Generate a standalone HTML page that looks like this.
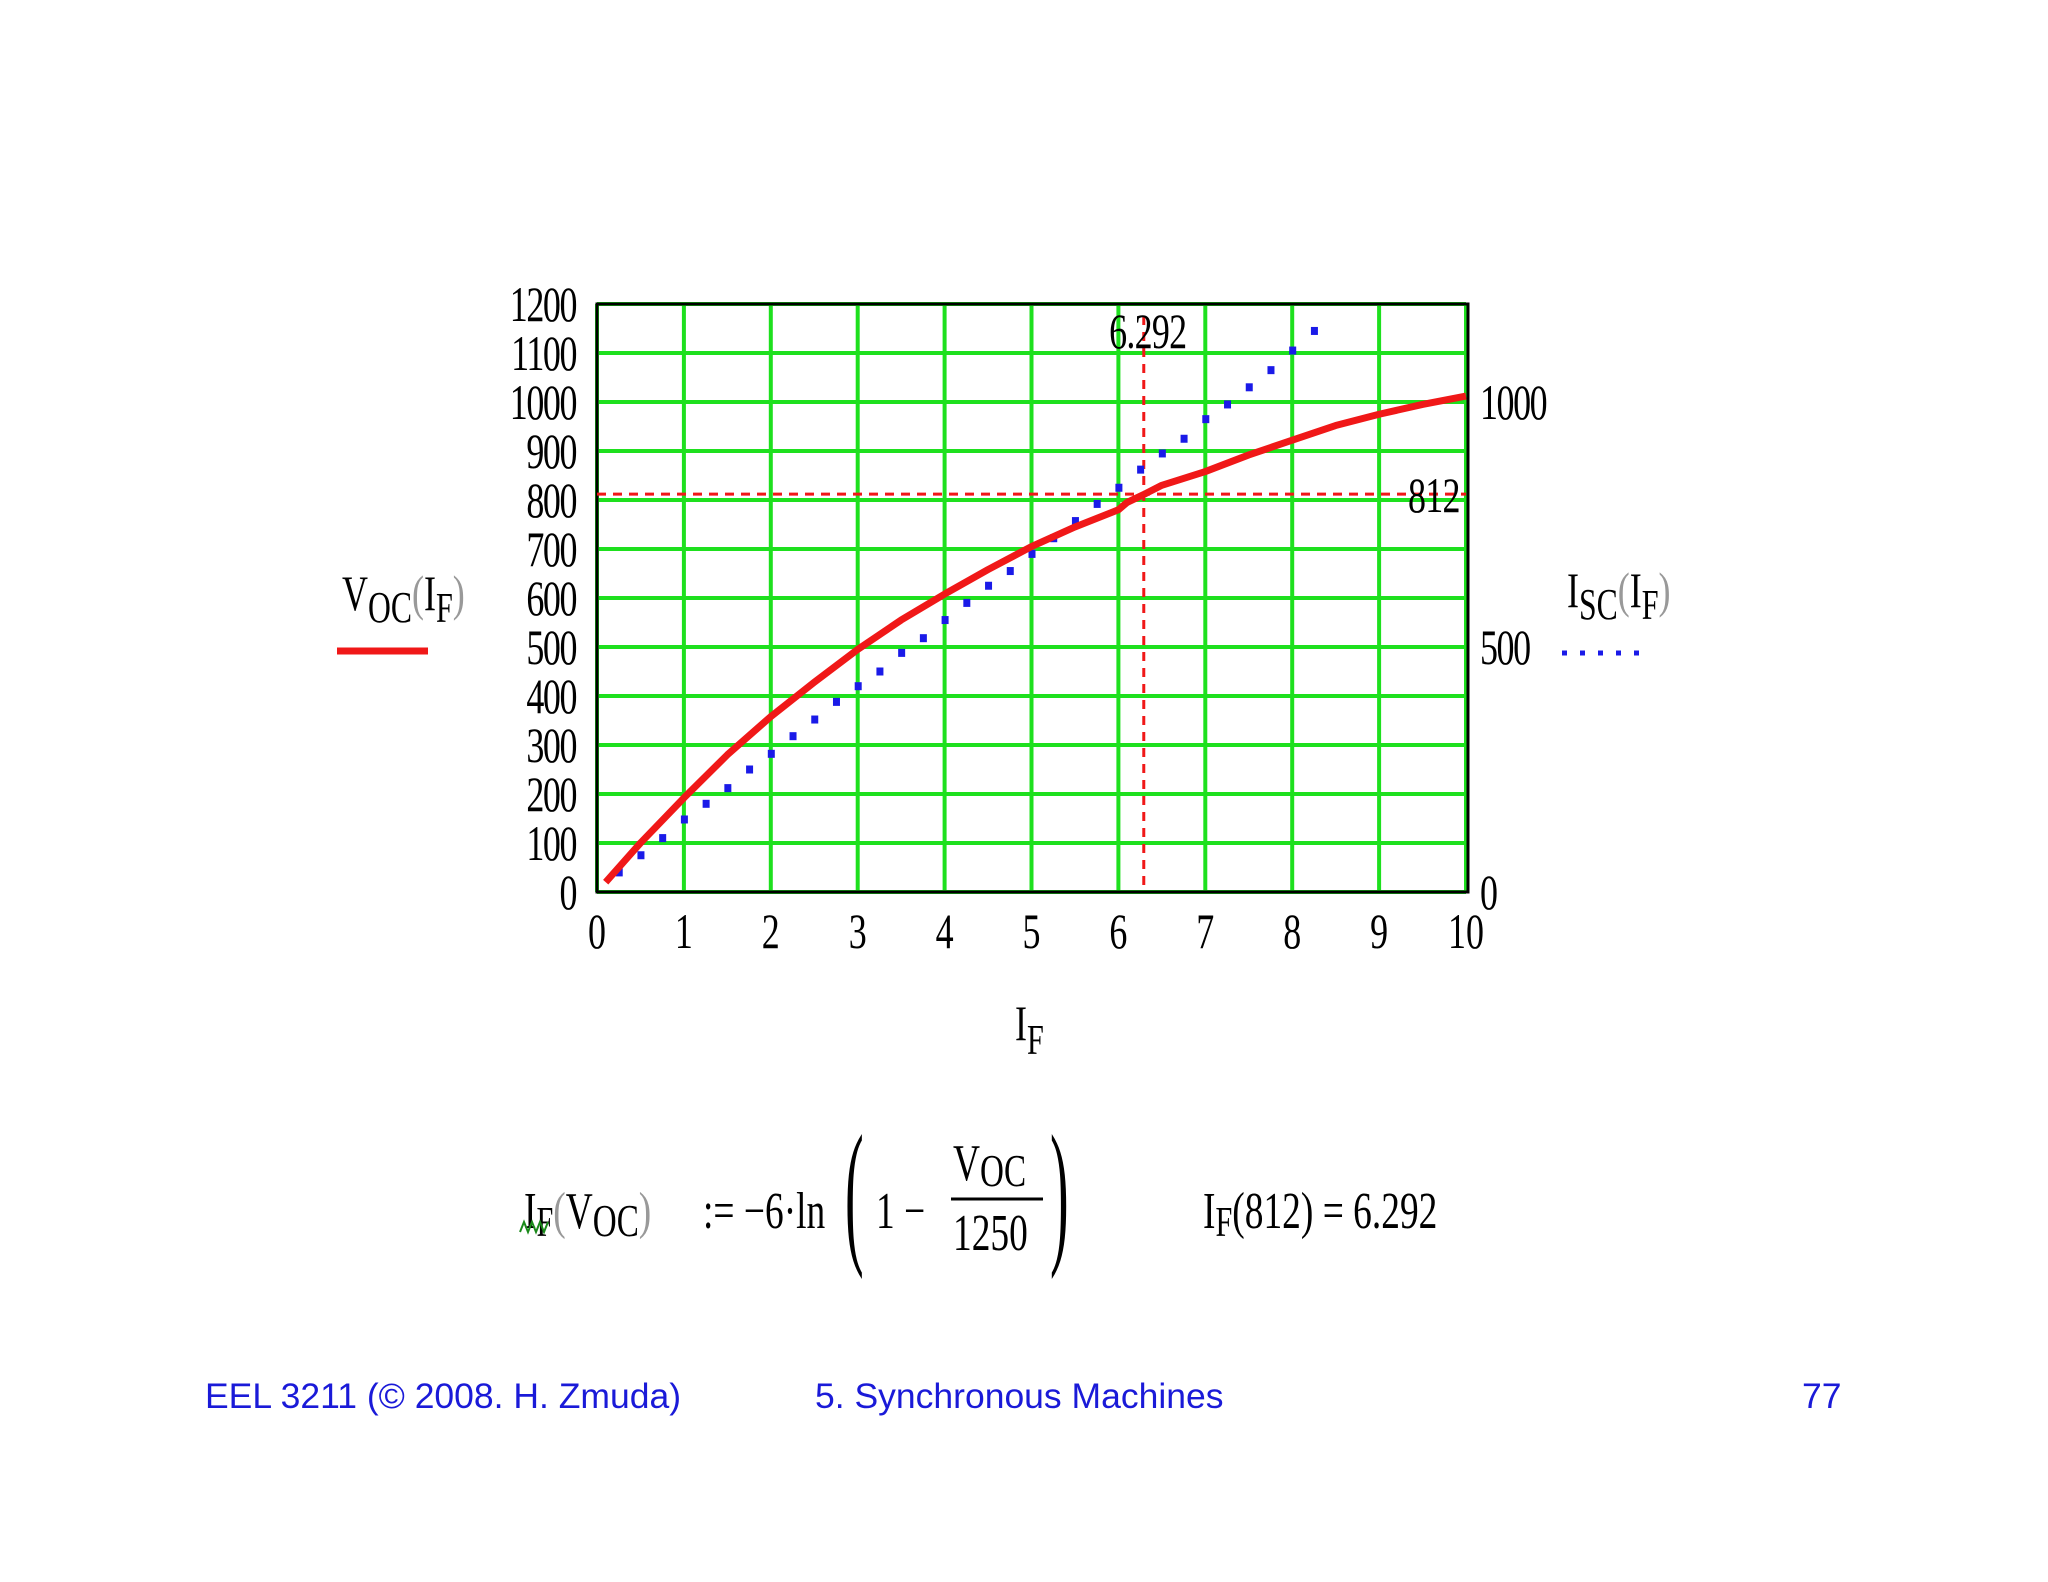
<!DOCTYPE html>
<html><head><meta charset="utf-8"><style>
html,body{margin:0;padding:0;background:#fff;}
svg{display:block;}
.t{font-family:"Liberation Serif",serif;fill:#000;}
.f{font-family:"Liberation Sans",sans-serif;fill:#1a1ad8;font-size:35.5px;}
</style></head><body>
<svg id="chart" width="2048" height="1582" viewBox="0 0 2048 1582" xmlns="http://www.w3.org/2000/svg">
<g id="grid"></g>
<g id="marks"></g>
<g id="labels"></g>

<text class="t" font-size="50" transform="translate(342 610) scale(0.72 1)">V<tspan font-size="44" dy="12">OC</tspan><tspan dy="-12" fill="#999">(</tspan>I<tspan font-size="42" dy="12">F</tspan><tspan dy="-12" fill="#999">)</tspan></text>
<line x1="337" y1="651" x2="428" y2="651" stroke="#f01818" stroke-width="7"/>
<text class="t" font-size="50" transform="translate(1567 607) scale(0.72 1)">I<tspan font-size="44" dy="12">SC</tspan><tspan dy="-12" fill="#999">(</tspan>I<tspan font-size="42" dy="12">F</tspan><tspan dy="-12" fill="#999">)</tspan></text>
<line x1="1562" y1="653" x2="1652" y2="653" stroke="#1a1ae8" stroke-width="5" stroke-dasharray="5 13"/>
<text class="t" font-size="50" transform="translate(1015 1040) scale(0.72 1)">I<tspan font-size="42" dy="14">F</tspan></text>

<g class="t" font-size="52">
<text transform="translate(524 1228) scale(0.72 1)">I<tspan font-size="42" dy="8">F</tspan><tspan dy="-8" fill="#999">(</tspan>V<tspan font-size="46" dy="8">OC</tspan><tspan dy="-8" fill="#999">)</tspan></text>
<path d="M520 1232 l4 -10 l4 10 l4 -10 l4 10 l4 -10 l4 10 l4 -10" stroke="#1a8a1a" stroke-width="2" fill="none"/>
<text transform="translate(703 1228) scale(0.72 1)">:= −6·ln</text>
<text font-size="160" font-weight="100" transform="translate(845 1245) scale(0.35 1)">(</text>
<text transform="translate(876 1228) scale(0.72 1)">1 −</text>
<text transform="translate(953 1180) scale(0.72 1)">V<tspan font-size="46" dy="6">OC</tspan></text>
<line x1="951" y1="1199" x2="1043" y2="1199" stroke="#000" stroke-width="3"/>
<text transform="translate(953 1250) scale(0.72 1)">1250</text>
<text font-size="160" font-weight="100" transform="translate(1050 1245) scale(0.35 1)">)</text>
<text transform="translate(1203 1228) scale(0.72 1)">I<tspan font-size="42" dy="8">F</tspan><tspan dy="-8">(812) = 6.292</tspan></text>
</g>

<text class="f" x="205" y="1408">EEL 3211 (© 2008. H. Zmuda)</text>
<text class="f" x="815" y="1408">5. Synchronous Machines</text>
<text class="f" x="1802" y="1408">77</text>
</svg>
<script>
const xTicks=[0,1,2,3,4,5,6,7,8,9,10];
const yTicks=[0,100,200,300,400,500,600,700,800,900,1000,1100,1200];
const yRightTicks=[0,500,1000];
const vocX=[0.1,0.5,1,1.5,2,2.5,3,3.5,4,4.5,5,5.5,6,6.1,6.3,6.5,7,7.5,8,8.5,9,9.5,10];
const vocY=[20,100,192,280,358,428,495,555,608,658,705,745,780,795,812,830,858,892,922,952,975,995,1012];
const iscX=[0.25,0.5,0.75,1,1.25,1.5,1.75,2,2.25,2.5,2.75,3,3.25,3.5,3.75,4,4.25,4.5,4.75,5,5.25,5.5,5.75,6,6.25,6.5,6.75,7,7.25,7.5,7.75,8,8.25];
const iscY=[40,75,110,148,180,212,250,282,318,352,388,420,450,488,518,555,590,625,655,690,722,757,792,825,862,895,925,965,995,1030,1065,1105,1145,1175];
const markerX=[6.292];
const markerY=[812];
const L=597,R=1466,T=304,B=892;
const sx=v=>L+(v-0)/10*(R-L);
const sy=v=>B-(v-0)/1200*(B-T);
const NS="http://www.w3.org/2000/svg";
function mk(tag,parent,attrs){const e=document.createElementNS(NS,tag);for(const k in attrs)e.setAttribute(k,attrs[k]);document.getElementById(parent).appendChild(e);return e;}
xTicks.forEach(v=>{const e=mk('line','grid',{x1:sx(v),x2:sx(v),y1:T,y2:B,stroke:'#1ee01e','stroke-width':4});


const t=mk('text','labels',{'text-anchor':'middle','class':'t','font-size':50,transform:'translate('+sx(v)+' 948) scale(0.72 1)'});t.textContent=v;

});
yTicks.forEach(v=>{const e=mk('line','grid',{x1:L,x2:R,y1:sy(v),y2:sy(v),stroke:'#1ee01e','stroke-width':4});


const t=mk('text','labels',{'text-anchor':'end','class':'t','font-size':50,'letter-spacing':'-2',transform:'translate(576 '+(sy(v)+17)+') scale(0.72 1)'});t.textContent=v;

});
yRightTicks.forEach(v=>{const t=mk('text','labels',{'class':'t','font-size':50,'letter-spacing':'-2',transform:'translate(1480 '+(sy(v)+17)+') scale(0.72 1)'});t.textContent=v;

});
const fr=mk('rect','grid',{x:L,y:T,width:R-L+2,height:B-T,fill:'none',stroke:'#000','stroke-width':3});


const hl=mk('line','marks',{x1:L,x2:R,y1:sy(markerY[0]),y2:sy(markerY[0]),stroke:'#f01818','stroke-width':3,'stroke-dasharray':'9 7'});


const vl=mk('line','marks',{x1:sx(markerX[0]),x2:sx(markerX[0]),y1:T+12,y2:B,stroke:'#f01818','stroke-width':3,'stroke-dasharray':'9 7'});


iscX.forEach((x,i)=>{const r=mk('rect','marks',{x:sx(x)-3,y:sy(iscY[i])-4,width:7,height:8,fill:'#1a1ae8'});

});
const p=mk('polyline','marks',{points:vocX.map((x,i)=>sx(x)+','+sy(vocY[i])).join(' '),fill:'none',stroke:'#f01818','stroke-width':7,'stroke-linejoin':'round'});


const t1=mk('text','labels',{'text-anchor':'middle','class':'t','font-size':50,'letter-spacing':'-1',transform:'translate('+(sx(markerX[0])+4)+' 348) scale(0.72 1)'});t1.textContent=markerX[0];


const t2=mk('text','labels',{'class':'t','font-size':50,'letter-spacing':'-1',transform:'translate(1408 '+(sy(markerY[0])+18)+') scale(0.72 1)'});t2.textContent=markerY[0];


</script>
</body></html>
